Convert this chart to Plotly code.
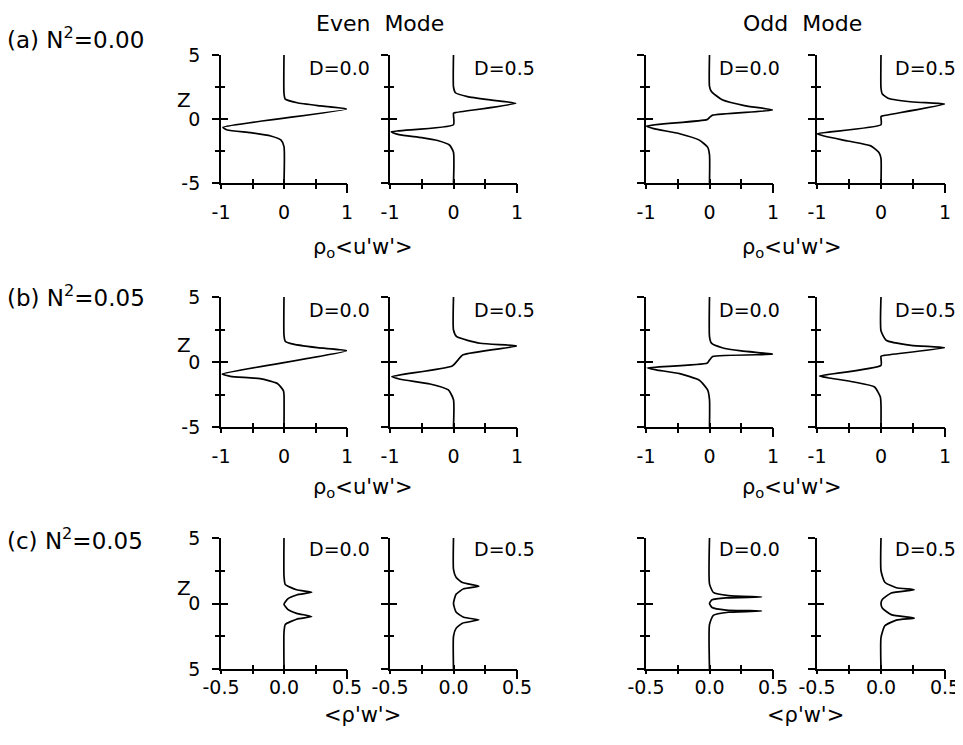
import plotly.graph_objects as go

# page body has an 8px margin: figure is sized to fill the rest of the 963x745 window
OFF = 8
W, H = 963 - OFF, 745 - OFF

# ---------------- data (x = flux value, z = height) ----------------
# Row (a) N^2 = 0.00, rho_o<u'w'>
EA0_x = [0, 0, 0.02, 0.21, 0.58, 1.0, -0.97, -0.9, -0.53, -0.21, -0.05, 0, 0]
EA0_z = [5, 2.0, 1.55, 1.27, 1.02, 0.77, -0.65, -0.86, -1.07, -1.33, -1.64, -2.16, -5]
EA5_x = [0, 0, 0.03, 0.22, 0.6, 0.98, 0.03, 0, 0, -0.98, -0.86, -0.5, -0.25, -0.06, 0, 0]
EA5_z = [5, 2.5, 2.05, 1.75, 1.47, 1.22, 0.5, 0.45, -0.45, -1.0, -1.22, -1.45, -1.68, -2.05, -2.6, -5]
OA0_x = [0, 0, 0.03, 0.2, 0.55, 1.0, 0.05, 0.0, -0.04, -0.99, -0.88, -0.47, -0.16, -0.03, 0, 0]
OA0_z = [5, 2.55, 2.15, 1.5, 1.05, 0.7, 0.3, 0.12, -0.05, -0.55, -0.75, -1.15, -1.65, -2.2, -2.8, -5]
OA5_x = [0, 0, 0.02, 0.12, 0.5, 1.0, 0.03, 0, 0, -1.0, -0.89, -0.52, -0.16, -0.03, 0, 0]
OA5_z = [5, 2.4, 1.95, 1.6, 1.33, 1.17, 0.25, 0.2, -0.45, -1.15, -1.33, -1.72, -2.1, -2.63, -3.1, -5]

# Row (b) N^2 = 0.05, rho_o<u'w'>
EB0_x = [0, 0, 0.02, 0.11, 0.53, 1.0, -0.98, -0.85, -0.38, -0.1, -0.01, 0, 0]
EB0_z = [5, 2.05, 1.6, 1.41, 1.1, 0.87, -0.93, -1.1, -1.28, -1.67, -2.2, -2.5, -5]
EB5_x = [0, 0, 0.05, 0.42, 1.0, 0.15, -0.02, -0.97, -0.84, -0.37, -0.08, 0, 0]
EB5_z = [5, 2.46, 1.95, 1.44, 1.23, 0.55, -0.3, -1.12, -1.33, -1.69, -2.15, -2.9, -5]
OB0_x = [0, 0, 0.03, 0.2, 0.5, 1.02, 0.05, 0.0, -0.04, -0.98, -0.84, -0.47, -0.16, -0.03, 0, 0]
OB0_z = [5, 1.95, 1.45, 1.1, 0.85, 0.6, 0.42, 0.15, -0.1, -0.45, -0.6, -0.9, -1.4, -2.15, -2.9, -5]
OB5_x = [0, 0, 0.08, 0.47, 1.0, 0.05, 0, 0, -0.96, -0.83, -0.42, -0.1, -0.01, 0, 0]
OB5_z = [5, 2.4, 1.67, 1.28, 1.1, 0.51, 0.45, -0.26, -1.08, -1.21, -1.54, -1.92, -2.69, -3.3, -5]

# Row (c) N^2 = 0.05, <rho'w'>
EC0_x = [0, 0, 0.01, 0.1, 0.22, 0.1, 0.03, 0.0, 0.03, 0.1, 0.22, 0.1, 0.01, 0, 0]
EC0_z = [5, 2.1, 1.45, 1.05, 0.85, 0.65, 0.35, -0.05, -0.45, -0.75, -1.0, -1.2, -1.6, -2.2, -5]
EC5_x = [0, 0, 0.02, 0.07, 0.2, 0.08, 0.02, 0.0, 0.02, 0.08, 0.2, 0.07, 0.02, 0, 0]
EC5_z = [5, 2.6, 2.0, 1.6, 1.32, 1.12, 0.7, 0.0, -0.65, -1.05, -1.25, -1.5, -1.9, -2.5, -5]
OC0_x = [0, 0, 0.03, 0.15, 0.41, 0.13, 0.02, 0, 0.02, 0.13, 0.41, 0.15, 0.03, 0, 0]
OC0_z = [5, 1.5, 0.85, 0.6, 0.5, 0.43, 0.28, 0.0, -0.3, -0.5, -0.57, -0.67, -0.9, -1.6, -5]
OC5_x = [0, 0, 0.03, 0.12, 0.26, 0.08, 0.01, 0, 0.01, 0.08, 0.26, 0.12, 0.03, 0, 0]
OC5_z = [5, 2.5, 1.62, 1.2, 1.05, 0.8, 0.3, 0, -0.35, -0.85, -1.12, -1.27, -1.7, -2.6, -5]

D_labels = ["D=0.0", "D=0.5", "D=0.0", "D=0.5"]
row_labels = ["(a) N<sup>2</sup>=0.00", "(b) N<sup>2</sup>=0.05", "(c) N<sup>2</sup>=0.05"]
col_titles = ["Even\u00a0\u00a0Mode", "Odd\u00a0\u00a0Mode"]
uw_title = "ρ<sub>o</sub>&lt;u'w'&gt;"
rw_title = "&lt;ρ'w'&gt;"
x_ticks_uw = [-1, 0, 1]
x_text_uw = ["-1", "0", "1"]
x_minor_uw = [-0.5, 0.5]
x_ticks_rw = [-0.5, 0, 0.5]
x_text_rw = ["-0.5", "0.0", "0.5"]
x_minor_rw = [-0.25, 0.25]
z_ticks = [-5, 0, 5]
z_text_ab = ["-5", "0", "5"]
z_text_c = ["5", "0", "5"]
z_minor = [-2.5, 2.5]

rows_data = [
    [(EA0_x, EA0_z), (EA5_x, EA5_z), (OA0_x, OA0_z), (OA5_x, OA5_z)],
    [(EB0_x, EB0_z), (EB5_x, EB5_z), (OB0_x, OB0_z), (OB5_x, OB5_z)],
    [(EC0_x, EC0_z), (EC5_x, EC5_z), (OC0_x, OC0_z), (OC5_x, OC5_z)],
]

# ---------------- layout geometry (window pixels) ----------------
cols_px = [(221, 347), (390, 517), (646, 773), (817, 945)]
rows_px = [(55, 183), (297, 427), (538, 669)]

FONT = "DejaVu Sans"
TW = 1.5
fig = go.Figure()
layout = dict(width=W, height=H, margin=dict(l=0, r=0, t=0, b=0, pad=0, autoexpand=False),
              paper_bgcolor="white", plot_bgcolor="white", showlegend=False,
              font=dict(family=FONT, color="black", size=18))


def px_x(p):
    return (p - OFF) / W


def px_y(p):
    return 1 - (p - OFF) / H


def ref(prefix, n):
    return prefix if n == 1 else f"{prefix}{n}"


def key(prefix, n):
    return prefix + ("" if n == 1 else str(n))


k = 0
for r, row in enumerate(rows_data):
    for c, (xs, zs) in enumerate(row):
        nx_main, nx_ov, nx_end = 3 * k + 1, 3 * k + 2, 3 * k + 3
        ny_main, ny_ov = 2 * k + 1, 2 * k + 2
        xl, xr = cols_px[c]
        yt, yb = rows_px[r]
        xdom = [px_x(xl), px_x(xr)]
        ydom = [px_y(yb), px_y(yt)]
        if r < 2:
            xrange_, xt, xtt, xm = [-1, 1], x_ticks_uw, x_text_uw, x_minor_uw
            main_side, ov_side, standoff = "outside", "inside", 7
        else:
            xrange_, xt, xtt, xm = [-0.5, 0.5], x_ticks_rw, x_text_rw, x_minor_rw
            main_side, ov_side, standoff = "inside", "outside", 0
        ztext = z_text_c if r == 2 else z_text_ab
        x_end = [xt[-1]]
        x_rest = xt[:-1] + xm

        fig.add_trace(go.Scatter(x=xs, y=zs, mode="lines",
                                 line=dict(color="black", width=1.7, shape="spline", smoothing=0.5),
                                 xaxis=ref("x", nx_main), yaxis=ref("y", ny_main),
                                 hoverinfo="skip"))
        fig.add_trace(go.Scatter(x=[], y=[], mode="lines",
                                 xaxis=ref("x", nx_ov), yaxis=ref("y", ny_ov)))
        fig.add_trace(go.Scatter(x=[], y=[], mode="lines",
                                 xaxis=ref("x", nx_end), yaxis=ref("y", ny_ov)))

        common_x = dict(domain=xdom, range=xrange_, showgrid=False, zeroline=False,
                        tickmode="array", fixedrange=True, automargin=False)
        common_y = dict(domain=ydom, range=[-5, 5], showgrid=False, zeroline=False,
                        tickmode="array", tickvals=z_ticks, fixedrange=True, automargin=False)

        # main x axis: line, labels, regular ticks on one side
        layout[key("xaxis", nx_main)] = dict(
            **common_x, tickvals=xt, anchor=ref("y", ny_main), ticktext=xtt,
            showline=True, linecolor="black", linewidth=1.8,
            ticks=main_side, ticklen=4, tickwidth=TW, tickcolor="black",
            tickfont=dict(family=FONT, size=19, color="black"), ticklabelstandoff=standoff,
            minor=dict(tickmode="array", tickvals=xm, ticks=main_side, ticklen=4,
                       tickwidth=TW, tickcolor="black"))
        # overlay x axis: ticks on the other side, longer tick at the right end
        layout[key("xaxis", nx_ov)] = dict(
            **common_x, tickvals=x_end, anchor=ref("y", ny_ov), overlaying=ref("x", nx_main),
            showline=False, showticklabels=False,
            ticks=ov_side, ticklen=9, tickwidth=TW, tickcolor="black",
            minor=dict(tickmode="array", tickvals=x_rest, ticks=ov_side, ticklen=4,
                       tickwidth=TW, tickcolor="black"))
        # second overlay: longer right-end tick on the main side
        layout[key("xaxis", nx_end)] = dict(
            **common_x, tickvals=x_end, anchor=ref("y", ny_ov), overlaying=ref("x", nx_main),
            showline=False, showticklabels=False,
            ticks=main_side, ticklen=9, tickwidth=TW, tickcolor="black")

        layout[key("yaxis", ny_main)] = dict(
            **common_y, anchor=ref("x", nx_main), ticktext=ztext,
            showticklabels=(c == 0),
            showline=True, linecolor="black", linewidth=1.8,
            ticks="outside", ticklen=7, tickwidth=TW, tickcolor="black",
            tickfont=dict(family=FONT, size=19, color="black"), ticklabelstandoff=8,
            minor=dict(tickmode="array", tickvals=z_minor, ticks="outside", ticklen=4,
                       tickwidth=TW, tickcolor="black"))
        layout[key("yaxis", ny_ov)] = dict(
            **common_y, anchor=ref("x", nx_ov), overlaying=ref("y", ny_main),
            showline=False, showticklabels=False,
            ticks="inside", ticklen=7, tickwidth=TW, tickcolor="black",
            minor=dict(tickmode="array", tickvals=z_minor, ticks="inside", ticklen=4,
                       tickwidth=TW, tickcolor="black"))
        k += 1

fig.update_layout(**layout)

ann = []


def add_text(text, x, y, size=18, xanchor="center", yanchor="middle"):
    ann.append(dict(text=text, x=px_x(x), y=px_y(y), xref="paper", yref="paper",
                    xanchor=xanchor, yanchor=yanchor, showarrow=False,
                    font=dict(family=FONT, size=size, color="black")))


# column titles
add_text(col_titles[0], 380, 23, size=22)
add_text(col_titles[1], 802, 23, size=22)

# row labels
row_label_y = [38, 296, 539]
for lab, y in zip(row_labels, row_label_y):
    add_text(lab, 5, y, size=23, xanchor="left")

# Z labels
for y in [100, 345, 588]:
    add_text("Z", 184, y, size=20)

# D labels
d_x = [307, 472, 717, 893]
d_y = [68, 310, 549]
for y in d_y:
    for x, lab in zip(d_x, D_labels):
        add_text(lab, x, y, size=19, xanchor="left")

# x-axis titles
add_text(uw_title, 363, 248, size=21)
add_text(uw_title, 792, 248, size=21)
add_text(uw_title, 363, 488, size=21)
add_text(uw_title, 792, 488, size=21)
add_text(rw_title, 362, 715, size=21)
add_text(rw_title, 805, 715, size=21)

fig.update_layout(annotations=ann)
fig.write_html("out.html")
